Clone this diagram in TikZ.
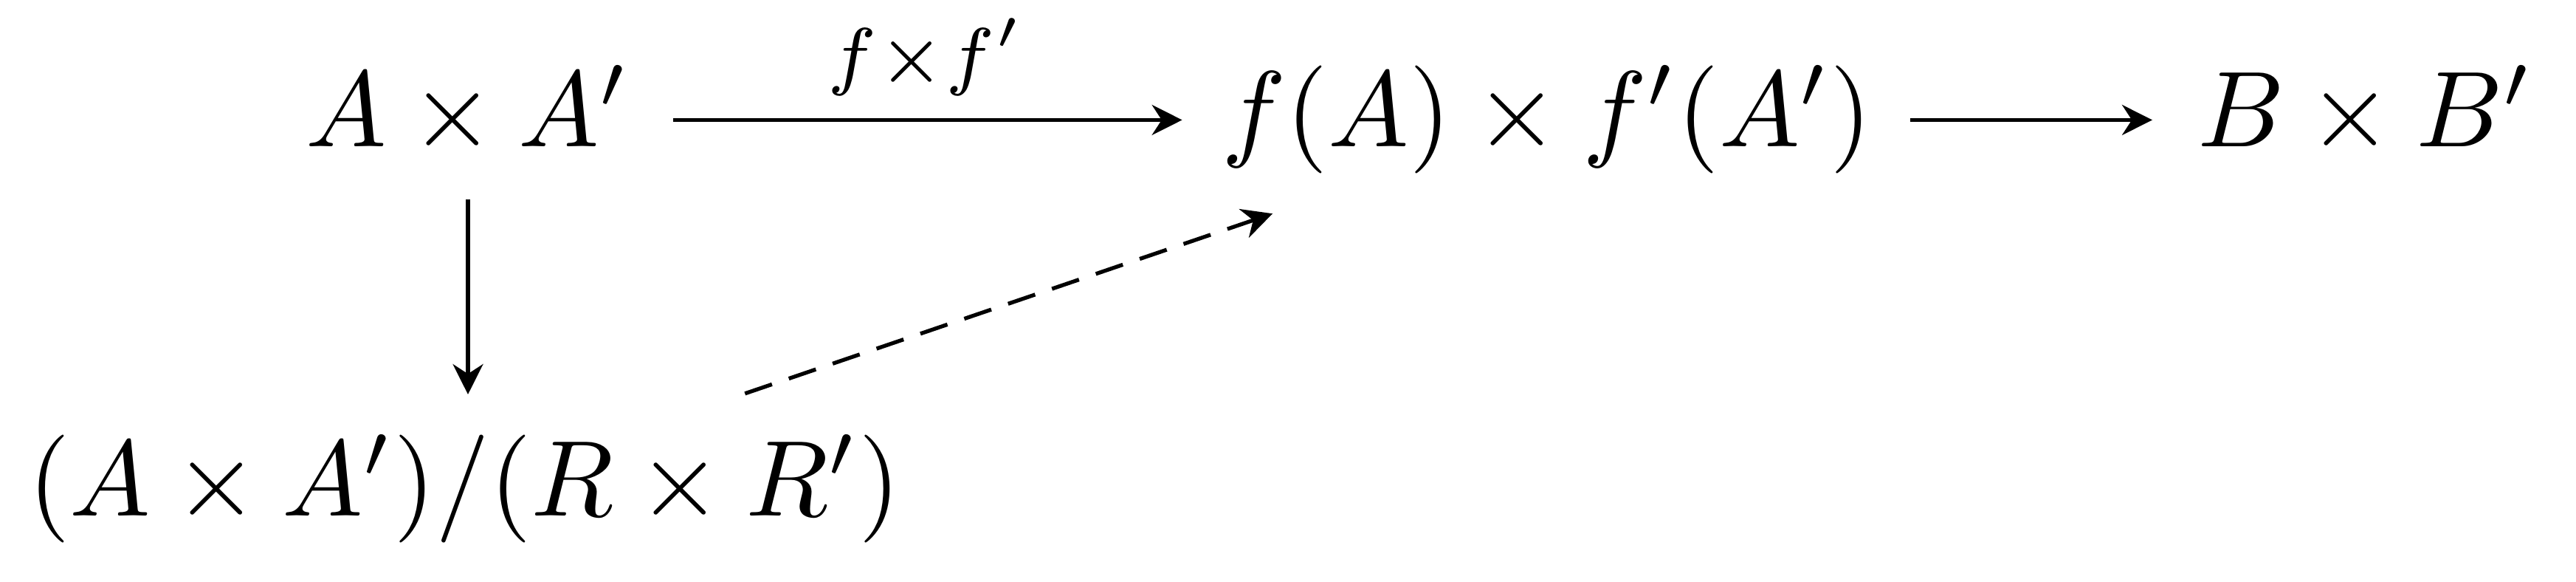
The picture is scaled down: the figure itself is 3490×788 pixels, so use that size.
\documentclass[tikz,border=0pt]{standalone}
\usetikzlibrary{arrows.meta}
\begin{document}
\begin{tikzpicture}[x=0.06849pt,y=-0.06849pt,
  obj/.style={anchor=base, inner sep=0pt, text height=7.5pt, text depth=2.5pt},
  arr/.style={line width=0.36pt, -{Stealth[length=2.8pt,width=2.8pt,inset=0.9pt]}},
  dasharr/.style={arr, dash pattern=on 2.65pt off 1.65pt},
  lbl/.style={anchor=base, inner sep=0pt}]
\useasboundingbox (0,0) rectangle (3490,788);
\node[obj] (a) at (634,199) {$A\times A'$};
\node[obj] (b) at (2096,199) {$f(A)\times f'(A')$};
\node[obj] (c) at (3205,199) {$B\times B'$};
\node[obj] (d) at (629,699) {$(A\times A')/(R\times R')$};
\draw[arr, shorten <=3.8pt, shorten >=3.5pt] (a) -- node[lbl, midway, yshift=3.6pt] {$\scriptstyle f\times f'$} (b);
\draw[arr, shorten <=3.3pt, shorten >=4.0pt] (b) -- (c);
\draw[arr, shorten <=2.16pt, shorten >=3.6pt] (a.south) -- (a.south |- d.north);
\draw[dasharr, shorten <=11.4pt, shorten >=10.8pt] (d) -- (b);
\end{tikzpicture}
\end{document}
